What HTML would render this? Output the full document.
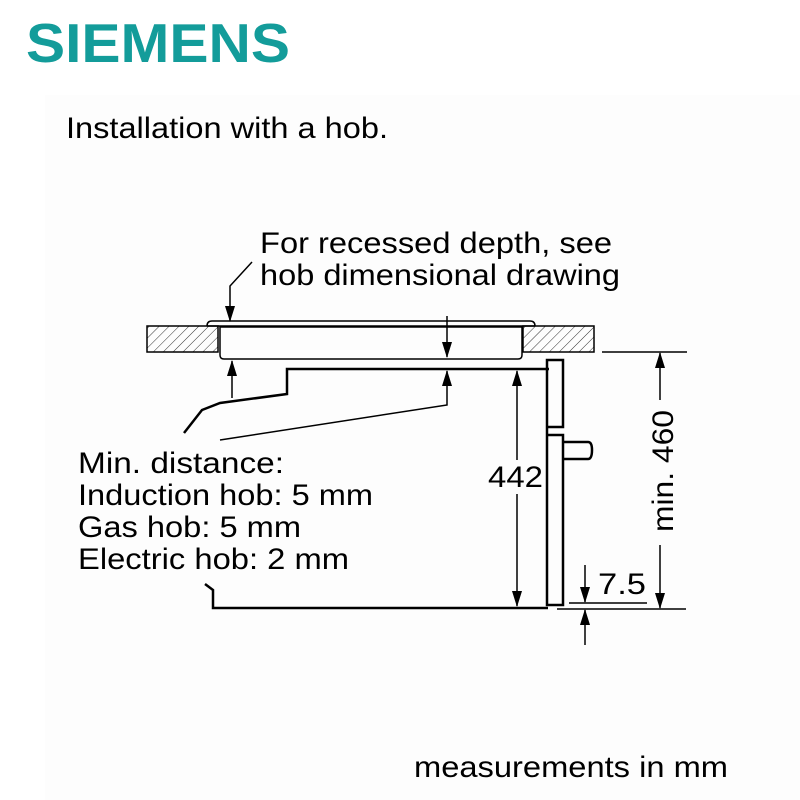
<!DOCTYPE html>
<html><head><style>body{margin:0;background:#fff}svg{display:block}</style></head><body>
<svg width="800" height="800" viewBox="0 0 800 800" xmlns="http://www.w3.org/2000/svg" font-family="Liberation Sans, Arial, sans-serif">
<defs>
<pattern id="h" patternUnits="userSpaceOnUse" width="7" height="7" patternTransform="rotate(45)"><line x1="0" y1="0" x2="0" y2="7" stroke="#000" stroke-width="0.8"/></pattern>
</defs>
<rect x="45" y="95" width="755" height="705" fill="#fdfdfd"/>
<text x="26" y="62" font-size="55" font-weight="bold" fill="#139c9a" textLength="264" lengthAdjust="spacingAndGlyphs">SIEMENS</text>
<text x="66" y="138" font-size="30" textLength="322" lengthAdjust="spacingAndGlyphs">Installation with a hob.</text>
<text x="260" y="253" font-size="30" textLength="352" lengthAdjust="spacingAndGlyphs">For recessed depth, see</text>
<text x="260" y="285" font-size="30" textLength="360" lengthAdjust="spacingAndGlyphs">hob dimensional drawing</text>
<g font-size="30">
<text x="78" y="473" textLength="206" lengthAdjust="spacingAndGlyphs">Min. distance:</text>
<text x="78" y="505" textLength="295" lengthAdjust="spacingAndGlyphs">Induction hob: 5 mm</text>
<text x="78" y="537" textLength="223" lengthAdjust="spacingAndGlyphs">Gas hob: 5 mm</text>
<text x="78" y="569" textLength="271" lengthAdjust="spacingAndGlyphs">Electric hob: 2 mm</text>
<text x="488" y="487" textLength="55" lengthAdjust="spacingAndGlyphs">442</text>
<text x="598" y="594" textLength="48" lengthAdjust="spacingAndGlyphs">7.5</text>
<text x="414" y="777" textLength="314" lengthAdjust="spacingAndGlyphs">measurements in mm</text>
<text transform="translate(673,532) rotate(-90)" textLength="122" lengthAdjust="spacingAndGlyphs">min. 460</text>
</g>
<rect x="147" y="326" width="71" height="26" fill="url(#h)" stroke="#000" stroke-width="1.5"/>
<rect x="523" y="326" width="71" height="26" fill="url(#h)" stroke="#000" stroke-width="1.5"/>
<path d="M207,326 Q207,321 212,321 L530,321 Q535,321 535,326" fill="none" stroke="#000" stroke-width="1.5"/>
<path d="M220,327 L220,355 Q220,359 224,359 L518,359 Q522,359 522,355 L522,327 Z" fill="none" stroke="#000" stroke-width="1.5"/>
<line x1="207" y1="326" x2="535" y2="326" stroke="#000" stroke-width="1.5"/>
<g fill="none" stroke="#000" stroke-width="2.5">
<path d="M184,433 L202,410 L220,403 L287,394 L287,369 L549,369"/>
<path d="M205,584 L213,590 L213,608 L548,608"/>
<path d="M547,360 L563,360 L563,427 L547,427 L547,435 L563,435 L563,605 L547,605 Z"/>
<path d="M563,442 L588,442 Q592,442 592,450 Q592,459 588,459 L563,459"/>
</g>
<g stroke="#000" stroke-width="1.5" fill="none">
<path d="M252,262 L230,286 L230,321"/>
<line x1="447" y1="316" x2="447" y2="357"/>
<line x1="232" y1="398" x2="232" y2="361"/>
<path d="M220,440 L447,405 L447,371"/>
<line x1="517" y1="460" x2="517" y2="371"/>
<line x1="517" y1="494" x2="517" y2="606"/>
<line x1="602" y1="352" x2="687" y2="352"/>
<line x1="557" y1="609" x2="686" y2="609"/>
<line x1="569" y1="603" x2="647" y2="603"/>
<line x1="660" y1="400" x2="660" y2="353"/>
<line x1="660" y1="545" x2="660" y2="608"/>
<line x1="585" y1="565" x2="585" y2="602"/>
<line x1="585" y1="645" x2="585" y2="610"/>
</g>
<g fill="#000">
<polygon points="225,306 235,306 230,322"/>
<polygon points="442,342 452,342 447,358"/>
<polygon points="227,376 237,376 232,360"/>
<polygon points="442,386 452,386 447,370"/>
<polygon points="512,386 522,386 517,370"/>
<polygon points="512,591 522,591 517,607"/>
<polygon points="655,368 665,368 660,352"/>
<polygon points="655,593 665,593 660,609"/>
<polygon points="580,587 590,587 585,603"/>
<polygon points="580,625 590,625 585,609"/>
</g>
</svg>
</body></html>
